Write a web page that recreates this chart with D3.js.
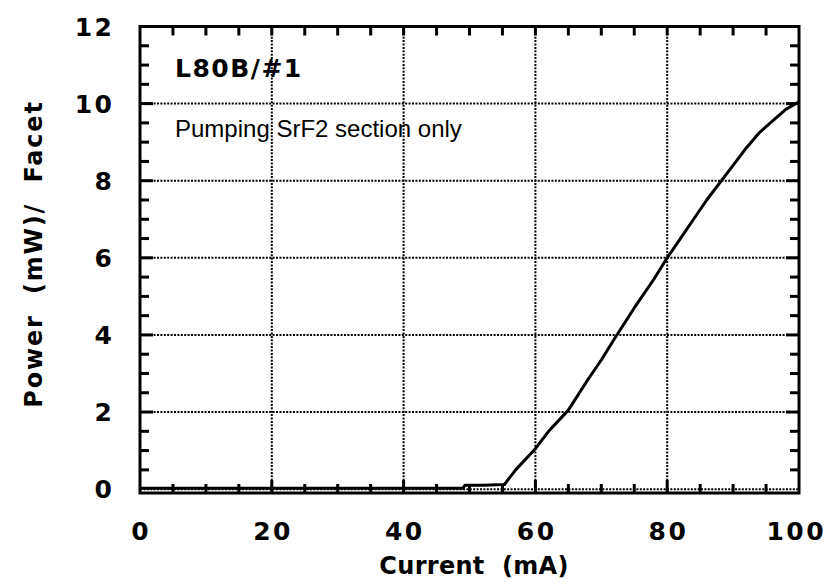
<!DOCTYPE html>
<html>
<head>
<meta charset="utf-8">
<script src="https://cdn.jsdelivr.net/npm/d3@7"></script>
<style>
  body { margin: 0; background: #fff; }
  svg { display: block; }
</style>
</head>
<body>
<div id="chart"></div>
<script>
var w = 829;
var h = 585;

// L-I curve
var current = [0, 10, 20, 30, 40, 49, 49.3, 52, 55.3, 57, 60, 62, 65, 68, 70, 72, 75, 78, 80, 82, 84, 86, 88, 90, 92, 94, 96, 98, 100];
var power = [0.02, 0.02, 0.02, 0.02, 0.02, 0.02, 0.1, 0.1, 0.12, 0.5, 1.05, 1.5, 2.05, 2.85, 3.35, 3.9, 4.7, 5.45, 6.0, 6.5, 7.0, 7.5, 7.95, 8.4, 8.85, 9.25, 9.55, 9.85, 10.05];

var xTicks = [0, 20, 40, 60, 80, 100];
var yTicks = [0, 2, 4, 6, 8, 10, 12];
var xMinor = [5, 10, 15, 20, 25, 30, 35, 40, 45, 50, 55, 60, 65, 70, 75, 80, 85, 90, 95];
var yMinor = [0.5, 1, 1.5, 2, 2.5, 3, 3.5, 4, 4.5, 5, 5.5, 6, 6.5, 7, 7.5, 8, 8.5, 9, 9.5, 10, 10.5, 11, 11.5];

// plot box (px)
var pLeft = 140, pRight = 799, pTop = 26.5, pBottom = 493;

var x = d3.scaleLinear().domain([0, 100]).range([pLeft, pRight]);
var y = d3.scaleLinear().domain([-0.1, 12]).range([pBottom, pTop]);

var svg = d3.select("#chart").append("svg")
  .attr("width", w)
  .attr("height", h);

// dotted grid
var grid = svg.append("g").attr("class", "grid");
grid.selectAll(".vg")
  .data(xTicks.filter(d => d > 0 && d < 100))
  .enter().append("line")
  .attr("x1", d => x(d)).attr("x2", d => x(d))
  .attr("y1", pTop).attr("y2", pBottom)
  .attr("stroke", "#000").attr("stroke-width", 2)
  .attr("stroke-dasharray", "2,1.4");
grid.selectAll(".hg")
  .data(yTicks.filter(d => d < 12))
  .enter().append("line")
  .attr("x1", pLeft).attr("x2", pRight)
  .attr("y1", d => y(d)).attr("y2", d => y(d))
  .attr("stroke", "#000").attr("stroke-width", 2)
  .attr("stroke-dasharray", "2,1.4");

// curve
var pts = current.map((c, i) => [c, power[i]]);
var line = d3.line().x(d => x(d[0])).y(d => y(d[1]));
svg.append("path")
  .datum(pts)
  .attr("d", line)
  .attr("fill", "none")
  .attr("stroke", "#000")
  .attr("stroke-width", 3)
  .attr("stroke-linejoin", "round");

// frame
svg.append("rect")
  .attr("x", pLeft).attr("y", pTop)
  .attr("width", pRight - pLeft).attr("height", pBottom - pTop)
  .attr("fill", "none")
  .attr("stroke", "#000")
  .attr("stroke-width", 3);

// tick labels
var ls = 2.5;
svg.append("g").selectAll("text")
  .data(xTicks)
  .enter().append("text")
  .attr("x", d => x(d) + ls / 2 - (d === 100 ? 4 : 0))
  .attr("y", 540)
  .attr("text-anchor", "middle")
  .attr("font-family", "DejaVu Sans")
  .attr("font-weight", "bold")
  .attr("font-size", 25)
  .attr("letter-spacing", ls)
  .text(d => d);

svg.append("g").selectAll("text")
  .data(yTicks)
  .enter().append("text")
  .attr("x", 112 + ls)
  .attr("y", d => y(d) + 9)
  .attr("text-anchor", "end")
  .attr("font-family", "DejaVu Sans")
  .attr("font-weight", "bold")
  .attr("font-size", 25)
  .attr("letter-spacing", ls)
  .text(d => d);

// axis titles
svg.append("text")
  .attr("x", 474)
  .attr("y", 574)
  .attr("text-anchor", "middle")
  .attr("font-family", "DejaVu Sans")
  .attr("font-weight", "bold")
  .attr("font-size", 24)
  .attr("letter-spacing", 0.3)
  .attr("xml:space", "preserve")
  .text("Current  (mA)");

svg.append("text")
  .attr("transform", "translate(42,254) rotate(-90)")
  .attr("text-anchor", "middle")
  .attr("font-family", "DejaVu Sans")
  .attr("font-weight", "bold")
  .attr("font-size", 24)
  .attr("letter-spacing", 1.8)
  .attr("xml:space", "preserve")
  .text("Power  (mW)/  Facet");

// annotations
svg.append("text")
  .attr("x", 175)
  .attr("y", 77)
  .attr("font-family", "DejaVu Sans")
  .attr("font-weight", "bold")
  .attr("font-size", 25)
  .attr("letter-spacing", 1.5)
  .text("L80B/#1");

svg.append("text")
  .attr("x", 175)
  .attr("y", 137)
  .attr("font-family", "Liberation Sans")
  .attr("font-size", 24)
  .text("Pumping SrF2 section only");

// inward ticks, drawn last: bottom/top via axes, left/right via axes
function tickLen(d, major) { return major.indexOf(d) !== -1 ? 13 : 9; }

var bAxis = svg.append("g").attr("transform", "translate(0," + pBottom + ")");
bAxis.selectAll("line").data(xMinor).enter().append("line")
  .attr("x1", d => x(d)).attr("x2", d => x(d))
  .attr("y1", 0).attr("y2", d => -tickLen(d, xTicks))
  .style("stroke", "black").style("stroke-width", "3px");

var tAxis = svg.append("g").attr("transform", "translate(0," + pTop + ")");
tAxis.selectAll("line").data(xMinor).enter().append("line")
  .attr("x1", d => x(d)).attr("x2", d => x(d))
  .attr("y1", 0).attr("y2", 9)
  .style("stroke", "black").style("stroke-width", "3px");

var lAxis = svg.append("g").attr("transform", "translate(" + pLeft + ",0)");
lAxis.selectAll("line").data(yMinor).enter().append("line")
  .attr("y1", d => y(d)).attr("y2", d => y(d))
  .attr("x1", 0).attr("x2", d => tickLen(d, yTicks))
  .style("stroke", "black").style("stroke-width", "3px");

var rAxis = svg.append("g").attr("transform", "translate(" + pRight + ",0)");
rAxis.selectAll("line").data(yMinor).enter().append("line")
  .attr("y1", d => y(d)).attr("y2", d => y(d))
  .attr("x1", 0).attr("x2", d => -tickLen(d, yTicks))
  .style("stroke", "black").style("stroke-width", "3px");
</script>
</body>
</html>
